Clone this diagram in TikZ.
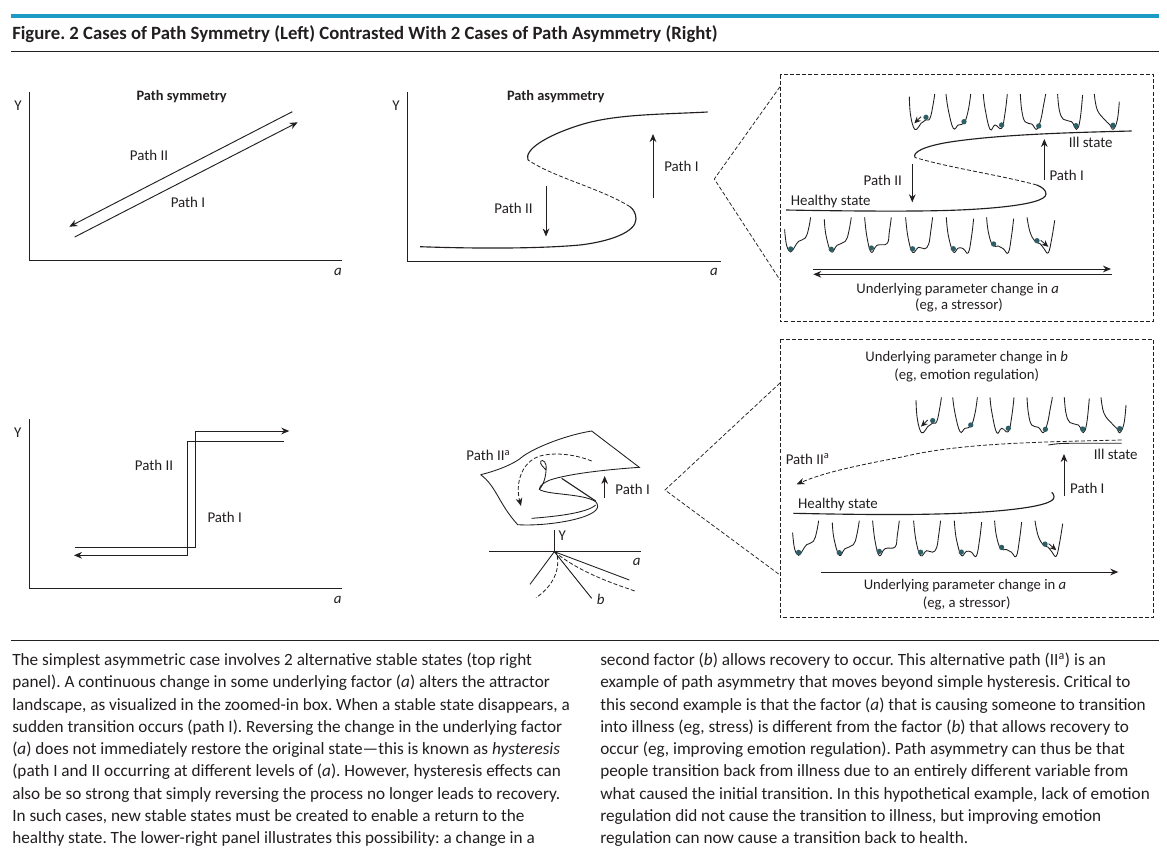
\documentclass[tikz,border=0pt]{standalone}
\usepackage{fontspec}
\setmainfont{Carlito}
\usetikzlibrary{arrows.meta}
\definecolor{ink}{HTML}{231F20}
\definecolor{ball}{HTML}{2F5F66}
\definecolor{topbar}{HTML}{1B9BC6}
\tikzset{
  x=0.75pt,y=-0.75pt,
  lbl/.style={inner sep=0pt,text=ink,text height=8.6pt,text depth=1.4pt,font=\fontsize{11.2pt}{12pt}\selectfont},
  longlbl/.style={lbl,font=\fontsize{11pt}{12pt}\selectfont},
  boldlbl/.style={inner sep=0pt,text=ink,text height=8.6pt,text depth=1.4pt,font=\bfseries\fontsize{10.8pt}{12pt}\selectfont},
  body/.style={inner sep=0pt,anchor=base west,text=ink,font=\frenchspacing\fontsize{12.9pt}{14pt}\selectfont},
  axis/.style={draw=ink,line width=0.7pt},
  curve/.style={draw=ink,line width=0.85pt},
  thincurve/.style={draw=ink,line width=0.65pt},
  dcurve/.style={draw=ink,line width=0.6pt,dash pattern=on 3pt off 1.6pt},
  link/.style={draw=ink,line width=0.55pt,dash pattern=on 3pt off 1.6pt},
  arr/.style={draw=ink,line width=0.7pt,-{Stealth[length=6pt,width=5pt]}},
  well/.style={draw=ink,line width=0.65pt},
  tinyarr/.style={draw=ink,line width=.6pt,-{Stealth[length=5pt,width=4.5pt]}},
}
\newcommand{\Ball}[2]{\fill[ball] (#1,#2) circle (2pt);}
\newcommand{\Well}[1]{\draw[well] plot[smooth,tension=.7] coordinates {#1};}
\tikzset{
  w1/.pic={\Well{(0.3,12)(2.3,28)(6.3,34.7)(10.3,29.7)(14.3,24)(21,20.7)(24.3,11.3)(26.3,0)}\Ball{6.3}{31.7}},
  w2/.pic={\Well{(0,2)(1.7,18)(7,34.7)(12.7,28)(21,24)(24.4,14.7)(27,0)}\Ball{7}{32}},
  w3/.pic={\Well{(0,0)(2.4,20)(6.7,35)(12.4,28)(22.4,26.3)(24.7,14.7)(26.7,0)}\Ball{6.7}{30.7}},
  w4/.pic={\Well{(0,0)(2.4,20)(7,35)(13,30)(19,31.5)(23,27)(25,15)(27,0)}\Ball{7}{31.5}},
  w5/.pic={\Well{(0,0)(2,18)(7,34.7)(12,30.7)(17,31.4)(22,35.4)(25.4,18)(27.3,1.4)}\Ball{7}{31.4}},
  w6/.pic={\Well{(0,0)(1.7,14.7)(6,28)(11.7,28.7)(16.7,31.4)(21.7,35.4)(25,18)(27,1.4)}\Ball{7}{26.7}},
  w7/.pic={\Well{(0,0)(3,14.7)(8,24)(13,26.4)(17,31.4)(21.3,35.4)(24.7,21.4)(27.7,3)}\Ball{10}{23.4}\draw[tinyarr] (13.7,23)--(21.3,29.5);},
  u1/.pic={\Well{(0,2.7)(1,19.3)(4,32.7)(7.4,35.3)(11.7,29.3)(16.4,26)(20.7,24.3)(24,9.3)(25.4,0)}\Ball{16.7}{23.3}\draw[tinyarr] (11.7,22.7)--(5,29.3);},
  u2/.pic={\Well{(0,0)(2.3,16)(7.3,34.3)(12.3,31)(18.3,28.7)(22.3,16)(24.7,0)}\Ball{18}{27.7}},
  u3/.pic={\Well{(0,0)(1.7,14.3)(6.7,35.3)(11.7,31)(18.3,34.3)(21.7,19.3)(24,0)}\Ball{18.3}{31}},
  u4/.pic={\Well{(0,0)(1.4,16)(4.7,27.7)(11.4,30)(16.4,35.3)(20.4,26)(23,12.7)(25.4,0)}\Ball{18.4}{32}},
  u5/.pic={\Well{(0,0)(1.7,16)(5.7,25.3)(14,27.7)(19,35.3)(22.4,26)(25,1)}\Ball{18.4}{31.7}},
  u6/.pic={\Well{(0,0)(3,16)(10.7,26)(15.7,31)(19,35.3)(23,26)(25,7.7)}\Ball{18.7}{31.3}},
  lowerrow/.pic={
    \path (0,0) pic{w1} (40,0) pic{w2} (80.3,0) pic{w3} (121.3,0) pic{w4} (162,0) pic{w5} (202.3,0) pic{w6} (242.7,0) pic{w7};},
  upperrow/.pic={
    \path (0,0) pic{u1} (36.7,0) pic{u2} (74,0) pic{u3} (111,0) pic{u4} (148.3,0) pic{u5} (185,0) pic{u6};},
}
\begin{document}
\begin{tikzpicture}
\useasboundingbox (0,0) rectangle (1167,857);
\fill[white] (0,0) rectangle (1167,857);
% header
\fill[topbar] (11,14) rectangle (1159,17.5);
\node[inner sep=0pt,anchor=base west,text=ink,font=\frenchspacing\bfseries\fontsize{14.05pt}{16pt}\selectfont] (title) at (12,39) {Figure. 2 Cases of Path Symmetry (Left) Contrasted With 2 Cases of Path Asymmetry (Right)};
\coordinate (r1a) at (11,51); \coordinate (r1b) at (1159,51);
\coordinate (r2a) at (11,640); \coordinate (r2b) at (1159,640);
\draw[ink,line width=.6pt] (r1a)--(r1b);
\draw[ink,line width=.6pt] (r2a)--(r2b);

% top-left: path symmetry
\coordinate (a1o) at (29.5,260.5); \coordinate (a1y) at (29.5,91.5); \coordinate (a1x) at (342,260.5);
\draw[axis] (a1y)--(a1o)--(a1x);
\node[lbl] (a1Y) at (18,106) {Y};
\node[lbl] (a1a) at (338,271) {\itshape a};
\node[boldlbl] (a1t) at (181.7,96) {Path symmetry};
\node[lbl] (a1p2) at (149,156) {Path II};
\node[lbl] (a1p1) at (188,202.7) {Path I};
\coordinate (a1s) at (292.3,111.7); \coordinate (a1e) at (69.3,226.7);
\coordinate (a1s2) at (74.7,237); \coordinate (a1e2) at (297.7,122.3);
\draw[arr] (a1s)--(a1e);
\draw[arr] (a1s2)--(a1e2);

% top-middle: path asymmetry
\coordinate (b1o) at (407,261); \coordinate (b1y) at (407,92); \coordinate (b1x) at (721,261);
\draw[axis] (b1y)--(b1o)--(b1x);
\node[lbl] (b1Y) at (396,106) {Y};
\node[lbl] (b1a) at (714,271) {\itshape a};
\node[boldlbl] (b1t) at (555.7,96) {Path asymmetry};
\node[lbl] (b1p2) at (513.5,209) {Path II};
\node[lbl] (b1p1) at (681.5,167) {Path I};
\draw[curve] (420,246.7) .. controls (470,248.5) and (535,249) .. (580,245)
  .. controls (610,241.5) and (636,232) .. (636,219)
  .. controls (636,213) and (633,209) .. (630,206.7);
\draw[dcurve] (630,206.7) .. controls (600,188) and (555,178) .. (528,160);
\draw[curve] (528,160) .. controls (524,150) and (545,136) .. (580,125)
  .. controls (615,114) and (660,114.5) .. (707.7,112);
\coordinate (b1a1) at (653,198); \coordinate (b1a2) at (653,134);
\coordinate (b1b1) at (546,186); \coordinate (b1b2) at (546,236.5);
\draw[arr] (b1a1)--(b1a2);
\draw[arr] (b1b1)--(b1b2);

% top-right: zoom box
\coordinate (bx1a) at (780,74.7); \coordinate (bx1b) at (1153.3,321.7);
\draw[link] (bx1a) rectangle (bx1b);
\coordinate (ap1) at (714.3,179); \coordinate (ap1t) at (780,86.7); \coordinate (ap1b) at (780,280);
\draw[link] (ap1t)--(ap1)--(ap1b);
\path (784.3,217.3) pic{lowerrow};
\path (909.3,94) pic{upperrow};
\draw[curve] (786,210) .. controls (840,211) and (900,211.5) .. (936.7,210.7)
  .. controls (975,210) and (1046,206) .. (1046,194)
  .. controls (1046,190) and (1042,187) .. (1036.7,185);
\draw[dcurve] (1036.7,185) .. controls (1000,175) and (950,168) .. (915,157.5);
\draw[curve] (915,157.5) .. controls (912,152) and (925,146) .. (950,142)
  .. controls (1000,134.5) and (1070,132.5) .. (1131.7,131);
\coordinate (c1a1) at (1044.3,180); \coordinate (c1a2) at (1044.3,139);
\coordinate (c1b1) at (912.3,164.3); \coordinate (c1b2) at (912.3,202.3);
\draw[arr] (c1a1)--(c1a2);
\draw[arr] (c1b1)--(c1b2);
\node[lbl] (c1ill) at (1090.7,142.3) {Ill state};
\node[lbl] (c1p1) at (1066.7,176) {Path I};
\node[lbl] (c1p2) at (882.7,181) {Path II};
\node[lbl] (c1h) at (830.7,201) {Healthy state};
\coordinate (c1r1) at (813.3,269); \coordinate (c1r2) at (1111,269);
\coordinate (c1l1) at (1111.7,274.3); \coordinate (c1l2) at (813.3,274.3);
\draw[arr] (c1r1)--(c1r2);
\draw[arr] (c1l1)--(c1l2);
\node[longlbl] (c1u) at (957.7,288.3) {Underlying parameter change in \textit{a}};
\node[longlbl] (c1e) at (959,305) {(eg, a stressor)};

% bottom-left: step curves
\coordinate (d1o) at (29.7,588.3); \coordinate (d1y) at (29.7,419); \coordinate (d1x) at (341.7,588.3);
\draw[axis] (d1y)--(d1o)--(d1x);
\node[lbl] (d1Y) at (17.7,433) {Y};
\node[lbl] (d1a) at (337.7,599) {\itshape a};
\node[lbl] (d1p2) at (154,465.7) {Path II};
\node[lbl] (d1p1) at (224.7,517.3) {Path I};
\coordinate (d1a1) at (74.7,547); \coordinate (d1a2) at (195.3,547); \coordinate (d1a3) at (195.3,431); \coordinate (d1a4) at (289.3,431);
\coordinate (d1b1) at (283.7,441.3); \coordinate (d1b2) at (187.3,441.3); \coordinate (d1b3) at (187.3,555.3); \coordinate (d1b4) at (74,555.3);
\draw[arr] (d1a1)--(d1a2)--(d1a3)--(d1a4);
\draw[arr] (d1b1)--(d1b2)--(d1b3)--(d1b4);

% bottom-middle: cusp surface
\begin{scope}[shift={(450,430)},x=0.25pt,y=-0.25pt]
\draw[thincurve] (92,134) .. controls (130,125) and (190,105) .. (220,78)
  .. controls (260,50) and (350,15) .. (425,3) -- (568,112)
  .. controls (480,118) and (360,130) .. (300,150)
  .. controls (280,158) and (268,168) .. (268,178)
  .. controls (290,195) and (400,190) .. (437,215);
\draw[thincurve] (92,134) .. controls (140,170) and (145,220) .. (203,284)
  .. controls (290,290) and (445,265) .. (443,228) .. controls (442,222) and (440,218) .. (437,215);
\draw[thincurve] (245,265) .. controls (310,260) and (410,250) .. (437,225);
\draw[thincurve] (268,178) .. controls (285,160) and (290,125) .. (288,105)
  .. controls (285,88) and (268,88) .. (272,100) .. controls (276,110) and (285,115) .. (288,120);
\draw[curve] (335,145)--(437,213);
\draw[dcurve,-{Stealth[length=6pt,width=5pt]}] (425,93) .. controls (380,75) and (320,65) .. (270,78)
  .. controls (215,95) and (195,160) .. (213,228);
\coordinate (e1a) at (464,204); \coordinate (e1b) at (464,138);
\draw[arr] (e1a)--(e1b);
\node[lbl] (e1p2) at (115,77) {Path II\textsuperscript{a}};
\node[lbl] (e1p1) at (548,180) {Path I};
\coordinate (e1o) at (313,365);
\coordinate (e1s) at (312,300); \coordinate (e1t) at (312,364); \coordinate (e1l) at (117,364); \coordinate (e1r) at (572,364);
\draw[axis] (e1s)--(e1t);
\draw[axis] (e1l)--(e1r);
\node[lbl] (e1Y) at (337,318) {Y};
\node[lbl] (e1a1) at (560,392) {\itshape a};
\node[lbl] (e1b1) at (452,510) {\itshape b};
\coordinate (e1u) at (240,463); \coordinate (e1v) at (425,505); \coordinate (e1w) at (538,450);
\coordinate (e1x) at (555,483); \coordinate (e1z) at (258,503); \coordinate (e1q) at (322,378);
\draw[thincurve] (e1o)--(e1u);
\draw[thincurve] (e1o)--(e1v);
\draw[thincurve] (e1o)--(e1w);
\draw[dcurve] (e1o) .. controls (380,420) and (470,455) .. (e1x);
\draw[dcurve] (e1q) .. controls (330,430) and (300,475) .. (e1z);
\end{scope}
\coordinate (ap2) at (665,490); \coordinate (ap2t) at (780,383); \coordinate (ap2b) at (780,575);
\draw[link] (ap2t)--(ap2)--(ap2b);

% bottom-right: zoom box
\coordinate (bx2a) at (780,339); \coordinate (bx2b) at (1153.3,617.7);
\draw[link] (bx2a) rectangle (bx2b);
\path (792.3,520.7) pic{lowerrow};
\path (916,397.3) pic{upperrow};
\node[longlbl] (f1b) at (966.7,356.7) {Underlying parameter change in \textit{b}};
\node[longlbl] (f1e) at (966.7,374.3) {(eg, emotion regulation)};
\coordinate (f1ds) at (1121.7,440); \coordinate (f1de) at (796.7,484.3);
\draw[dcurve,-{Stealth[length=6pt,width=5pt]}] (f1ds) .. controls (1040,442) and (960,443) .. (903.3,456.7) .. controls (860,465) and (825,472) .. (f1de);
\draw[thincurve] (1121.7,443.3) -- (1070,443.3) .. controls (1060,443.3) and (1054,444) .. (1048.3,445);
\node[lbl] (f1ill) at (1115.7,455) {Ill state};
\coordinate (f1a1) at (1064,495.7); \coordinate (f1a2) at (1064,454);
\draw[arr] (f1a1)--(f1a2);
\node[lbl] (f1p1) at (1087.3,489) {Path I};
\node[lbl] (f1p2) at (807.7,459.3) {Path II\textsuperscript{a}};
\node[lbl] (f1h) at (838,504) {Healthy state};
\draw[curve] (793.3,513.3) .. controls (850,514.5) and (900,515) .. (936.7,514)
  .. controls (985,513) and (1056,508) .. (1054,496.7) .. controls (1053.8,495) and (1053,493) .. (1051.7,492.3);
\coordinate (f1r1) at (820.7,572); \coordinate (f1r2) at (1118.3,572);
\draw[arr] (f1r1)--(f1r2);
\node[longlbl] (f1u) at (965,584.3) {Underlying parameter change in \textit{a}};
\node[longlbl] (f1s) at (966.7,602.7) {(eg, a stressor)};

% body text
\node[body] (t1) at (12,665.5) {The simplest asymmetric case involves 2 alternative stable states (top right};
\node[body] (t2) at (12,687.7) {panel). A continuous change in some underlying factor (\textit{a}) alters the attractor};
\node[body] (t3) at (12,710) {landscape, as visualized in the zoomed-in box. When a stable state disappears, a};
\node[body] (t4) at (12,732.2) {sudden transition occurs (path I). Reversing the change in the underlying factor};
\node[body] (t5) at (12,754.5) {(\textit{a}) does not immediately restore the original state—this is known as \textit{hysteresis}};
\node[body] (t6) at (12,776.7) {(path I and II occurring at different levels of (\textit{a}). However, hysteresis effects can};
\node[body] (t7) at (12,799) {also be so strong that simply reversing the process no longer leads to recovery.};
\node[body] (t8) at (12,821.2) {In such cases, new stable states must be created to enable a return to the};
\node[body] (t9) at (12,843.5) {healthy state. The lower-right panel illustrates this possibility: a change in a};
\node[body] (s1) at (600,665.5) {second factor (\textit{b}) allows recovery to occur. This alternative path (II\textsuperscript{a}) is an};
\node[body] (s2) at (600,687.7) {example of path asymmetry that moves beyond simple hysteresis. Critical to};
\node[body] (s3) at (600,710) {this second example is that the factor (\textit{a}) that is causing someone to transition};
\node[body] (s4) at (600,732.2) {into illness (eg, stress) is different from the factor (\textit{b}) that allows recovery to};
\node[body] (s5) at (600,754.5) {occur (eg, improving emotion regulation). Path asymmetry can thus be that};
\node[body] (s6) at (600,776.7) {people transition back from illness due to an entirely different variable from};
\node[body] (s7) at (600,799) {what caused the initial transition. In this hypothetical example, lack of emotion};
\node[body] (s8) at (600,821.2) {regulation did not cause the transition to illness, but improving emotion};
\node[body] (s9) at (600,843.5) {regulation can now cause a transition back to health.};
\end{tikzpicture}
\end{document}
